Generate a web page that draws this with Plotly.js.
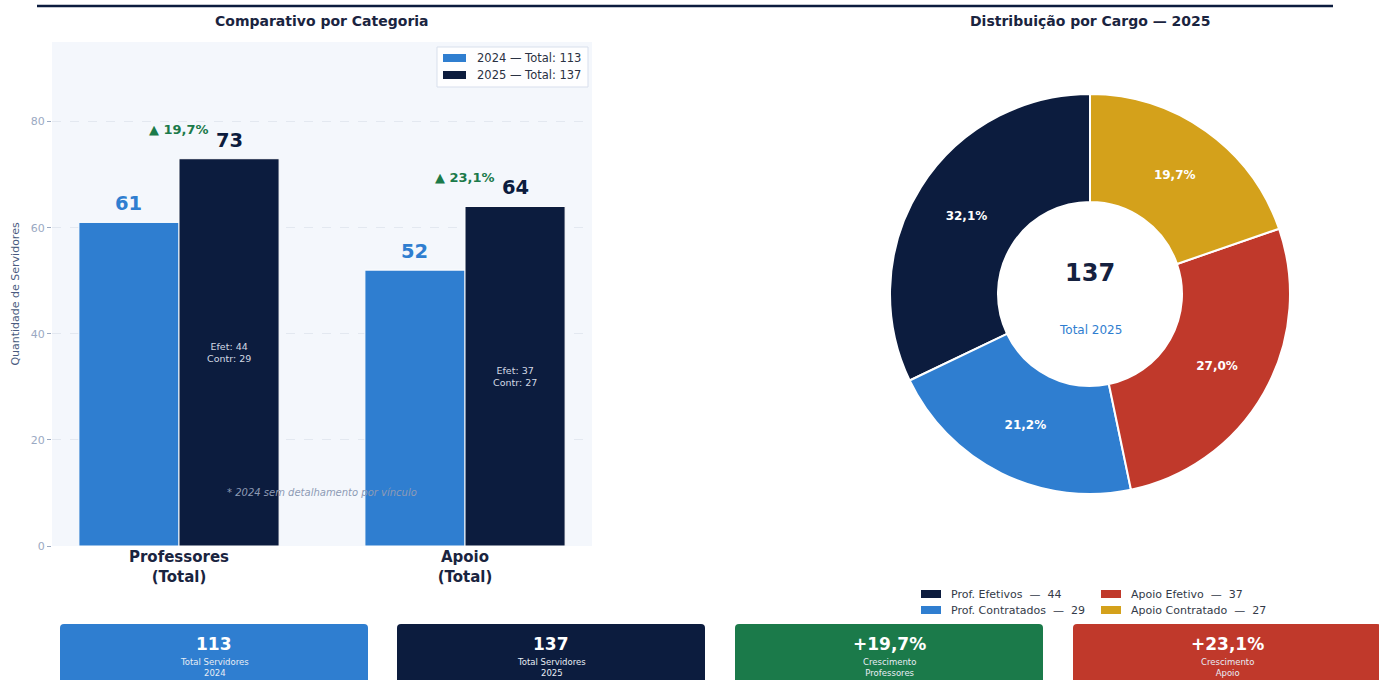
<!DOCTYPE html>
<html>
<head>
<meta charset="utf-8">
<script src="https://cdn.plot.ly/plotly-3.0.1.min.js"></script>
<style>html,body{margin:0;padding:0;background:#fff;}#chart{width:1379px;height:680px;}</style>
</head>
<body>
<div id="chart"></div>
<script>
// ---- data ----
const categories = ['Professores<br>(Total)', 'Apoio<br>(Total)'];
const values2024 = [61, 52];
const values2025 = [73, 64];
const efetivos2025 = [44, 37];
const contratados2025 = [29, 27];
const growthLabels = ['▲ 19,7%', '▲ 23,1%'];
const seriesNames = ['2024 — Total: 113', '2025 — Total: 137'];

const pieLabels = ['Prof. Efetivos', 'Prof. Contratados', 'Apoio Efetivo', 'Apoio Contratado'];
const pieValues = [44, 29, 37, 27];
const pieColors = ['#0c1c3e', '#2f7ed0', '#c0392b', '#d4a11b'];
const pieTotal = '137';

const kpiValues = ['113', '137', '+19,7%', '+23,1%'];
const kpiLabels = ['Total Servidores<br>2024', 'Total Servidores<br>2025', 'Crescimento<br>Professores', 'Crescimento<br>Apoio'];
const kpiColors = ['#2f7ed0', '#0c1c3e', '#1b7a4a', '#c0392b'];

// ---- helpers ----
const W = 1379, H = 680;
const px = x => x / W;
const py = y => 1 - y / H;
const FONT = 'DejaVu Sans, Verdana, sans-serif';
const NAVY = '#0c1c3e', BLUE = '#2f7ed0', GREEN = '#1b7a4a';
const barColors = [BLUE, NAVY];

const xIdx = categories.map((c, i) => i);
const pieSum = pieValues.reduce((a, b) => a + b, 0);

const traces = [
  {
    type: 'bar', x: xIdx, y: values2024, name: seriesNames[0],
    marker: {color: BLUE, line: {color: '#ffffff', width: 1}},
    xaxis: 'x', yaxis: 'y', hoverinfo: 'skip', showlegend: false
  },
  {
    type: 'bar', x: xIdx, y: values2025, name: seriesNames[1],
    marker: {color: NAVY, line: {color: '#ffffff', width: 1}},
    xaxis: 'x', yaxis: 'y', hoverinfo: 'skip', showlegend: false
  },
  {
    type: 'pie', labels: pieLabels, values: pieValues, sort: false,
    direction: 'counterclockwise', rotation: -360 * pieValues[0] / pieSum, hole: 0.46,
    marker: {colors: pieColors, line: {color: '#ffffff', width: 2}},
    texttemplate: '<b>%{percent:.1%}</b>', textposition: 'inside',
    insidetextorientation: 'horizontal',
    textfont: {color: '#ffffff', size: 12, family: FONT},
    domain: {x: [px(890), px(1290)], y: [py(494), py(94)]},
    showlegend: false, hoverinfo: 'skip'
  }
];

const annotations = [];
const shapes = [];
function ann(o) { annotations.push(Object.assign({showarrow: false, xanchor: 'center', yanchor: 'middle'}, o)); }

// titles
ann({xref: 'paper', yref: 'paper', x: px(322), y: py(21), text: '<b>Comparativo por Categoria</b>',
  font: {size: 14, color: '#1a2440', family: FONT}});
ann({xref: 'paper', yref: 'paper', x: px(1090), y: py(21), text: '<b>Distribuição por Cargo — 2025</b>',
  font: {size: 14, color: '#1a2440', family: FONT}});

// bar annotations
xIdx.forEach(i => {
  ann({x: i - 0.175, y: values2024[i], xref: 'x', yref: 'y', text: '<b>' + values2024[i] + '</b>',
    yanchor: 'bottom', yshift: 5, font: {size: 19.5, color: BLUE, family: FONT}});
  ann({x: i + 0.175, y: values2025[i], xref: 'x', yref: 'y', text: '<b>' + values2025[i] + '</b>',
    yanchor: 'bottom', yshift: 5, font: {size: 19.5, color: NAVY, family: FONT}});
  ann({x: i, y: values2025[i], xref: 'x', yref: 'y', text: '<b>' + growthLabels[i] + '</b>',
    yshift: 29, font: {size: 13, color: GREEN, family: FONT}});
  ann({x: i + 0.175, y: values2025[i] / 2, xref: 'x', yref: 'y',
    text: 'Efet: ' + efetivos2025[i] + '<br>Contr: ' + contratados2025[i],
    font: {size: 9.5, color: '#d3d9e4', family: FONT}});
});
ann({x: 0.5, y: 10, xref: 'x', yref: 'y', text: '<i>* 2024 sem detalhamento por vínculo</i>',
  font: {size: 10, color: '#8e9bb5', family: FONT}});

// bar legend (drawn)
shapes.push({type: 'rect', xref: 'paper', yref: 'paper', x0: px(437), x1: px(588), y0: py(87), y1: py(47),
  fillcolor: 'rgba(255,255,255,0.85)', line: {color: '#d8dfec', width: 1}});
seriesNames.forEach((nm, k) => {
  const ly = 58 + k * 17;
  shapes.push({type: 'rect', xref: 'paper', yref: 'paper', x0: px(443), x1: px(466), y0: py(ly + 4), y1: py(ly - 4),
    fillcolor: barColors[k], line: {width: 0}});
  ann({xref: 'paper', yref: 'paper', x: px(475), y: py(ly), xanchor: 'left', text: nm,
    font: {size: 11.5, color: '#2a3142', family: FONT}});
});

// donut center
ann({xref: 'paper', yref: 'paper', x: px(1090), y: py(273), text: '<b>' + pieTotal + '</b>',
  font: {size: 24, color: '#15213f', family: FONT}});
ann({xref: 'paper', yref: 'paper', x: px(1090), y: py(330), text: 'Total 2025',
  font: {size: 12, color: BLUE, family: FONT}});

// pie legend (2 columns)
const legPos = [[921, 594], [921, 610], [1101, 594], [1101, 610]];
pieLabels.forEach((lab, i) => {
  const [lx, ly] = legPos[i];
  shapes.push({type: 'rect', xref: 'paper', yref: 'paper', x0: px(lx), x1: px(lx + 20), y0: py(ly + 4), y1: py(ly - 4),
    fillcolor: pieColors[i], line: {width: 0}});
  ann({xref: 'paper', yref: 'paper', x: px(lx + 28), y: py(ly), xanchor: 'left',
    text: lab + '  —  ' + pieValues[i], font: {size: 11, color: '#333a48', family: FONT}});
});

// top rule
shapes.push({type: 'line', xref: 'paper', yref: 'paper', x0: px(37), x1: px(1333), y0: py(6), y1: py(6),
  line: {color: NAVY, width: 2.5}});

// KPI cards
const cardX = [60, 397, 735, 1073];
const cardW = 308;
function roundedPath(x0, y0, x1, y1, r) {
  const rx = r / W, ry = r / H;
  const X0 = px(x0), X1 = px(x1), Yt = py(y0), Yb = py(y1);
  return `M ${X0 + rx},${Yt} L ${X1 - rx},${Yt} Q ${X1},${Yt} ${X1},${Yt - ry} L ${X1},${Yb + ry} Q ${X1},${Yb} ${X1 - rx},${Yb} L ${X0 + rx},${Yb} Q ${X0},${Yb} ${X0},${Yb + ry} L ${X0},${Yt - ry} Q ${X0},${Yt} ${X0 + rx},${Yt} Z`;
}
kpiValues.forEach((v, i) => {
  const x0 = cardX[i];
  shapes.push({type: 'path', xref: 'paper', yref: 'paper', path: roundedPath(x0, 624, x0 + cardW, 700, 4),
    fillcolor: kpiColors[i], line: {width: 0}, layer: 'below'});
  ann({xref: 'paper', yref: 'paper', x: px(x0 + cardW / 2), y: py(644), text: '<b>' + v + '</b>',
    font: {size: 17, color: '#ffffff', family: FONT}});
  ann({xref: 'paper', yref: 'paper', x: px(x0 + cardW / 2), y: py(655), yanchor: 'top', text: kpiLabels[i],
    font: {size: 8.5, color: '#e8edf5', family: FONT}});
});

const layout = {
  width: W, height: H,
  margin: {l: 0, r: 0, t: 0, b: 0},
  paper_bgcolor: '#ffffff',
  plot_bgcolor: '#f4f7fc',
  separators: ',.',
  font: {family: FONT},
  barmode: 'group', bargap: 0.3, bargroupgap: 0,
  xaxis: {
    domain: [px(52), px(592)], range: [-0.444, 1.444],
    tickvals: xIdx, ticktext: categories.map(c => '<b>' + c + '</b>'),
    tickfont: {size: 15, color: '#1a2440', family: FONT},
    showgrid: false, zeroline: false, showline: false, ticks: '', anchor: 'y'
  },
  yaxis: {
    domain: [py(546), py(42)], range: [0, 95],
    tickvals: [0, 20, 40, 60, 80],
    tickfont: {size: 11, color: '#9aa9c2', family: FONT},
    ticks: 'outside', ticklen: 4, tickcolor: '#9aa9c2',
    showgrid: true, gridcolor: '#e3e8f0', griddash: 'dash', gridwidth: 1,
    zeroline: false, showline: false, anchor: 'x',
    title: {text: 'Quantidade de Servidores', font: {size: 11, color: '#4a5b80', family: FONT}, standoff: 8}
  },
  showlegend: false,
  annotations: annotations,
  shapes: shapes
};

Plotly.newPlot('chart', traces, layout, {displayModeBar: false, staticPlot: true});
</script>
</body>
</html>
